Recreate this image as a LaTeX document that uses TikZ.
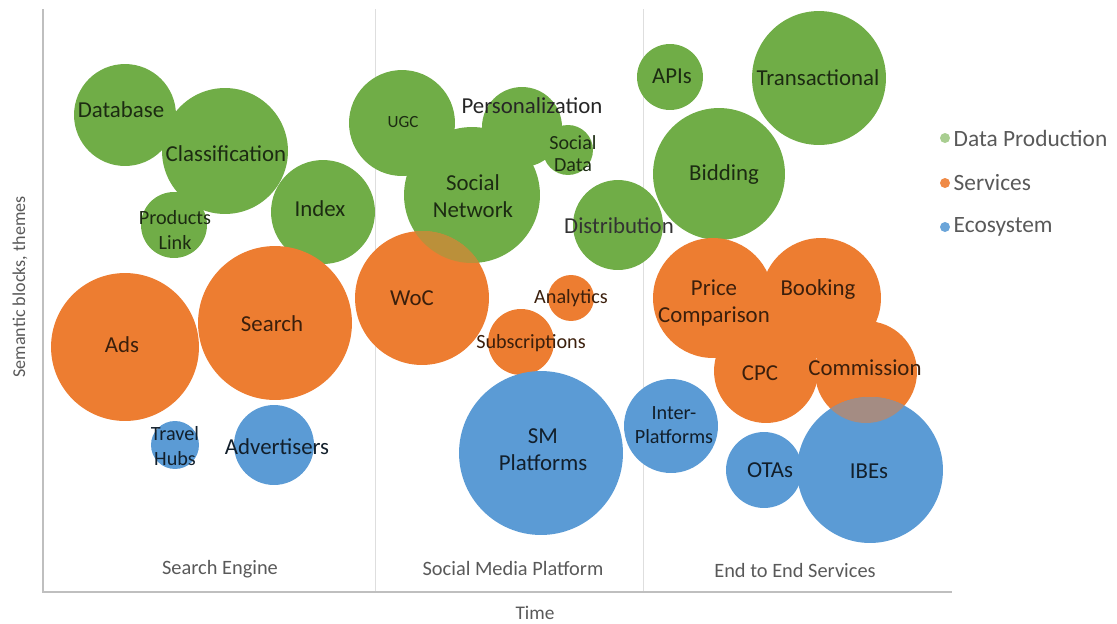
\documentclass[tikz,border=0pt]{standalone}
\usepackage{fontspec}
\setmainfont{Carlito}
\usepackage{tikz}
\usetikzlibrary{positioning}

\definecolor{dataGreen}{RGB}{112,173,71}
\definecolor{svcOrange}{RGB}{237,125,49}
\definecolor{ecoBlue}{RGB}{91,155,213}
\definecolor{axisGray}{RGB}{191,191,191}
\definecolor{sepGray}{RGB}{222,222,222}
\definecolor{txtGray}{RGB}{89,89,89}
\colorlet{blendA}{svcOrange!60!dataGreen}
\colorlet{blendB}{svcOrange!50!ecoBlue}

\begin{document}
\begin{tikzpicture}[x=0.02cm,y=-0.02cm,
	bub/.style={circle,inner sep=0pt,minimum size=#1*0.04cm},
	dp bub/.style={bub=#1,fill=dataGreen},
	sv bub/.style={bub=#1,fill=svcOrange},
	eco bub/.style={bub=#1,fill=ecoBlue},
	lbl/.style={inner sep=0pt,align=center,font=\fontsize{13}{15.5}\selectfont},
	small lbl/.style={lbl,font=\fontsize{11.5}{14}\selectfont},
	dp lbl/.style={text=dataGreen!25!black},
	sv lbl/.style={text=svcOrange!25!black},
	eco lbl/.style={text=ecoBlue!20!black},
	cat lbl/.style={inner sep=0pt,text=txtGray,font=\fontsize{11.6}{14}\selectfont},
	legdot/.style={circle,inner sep=0pt,minimum size=0.2cm},
	legtxt/.style={inner sep=0pt,anchor=west,text=txtGray,font=\fontsize{13.3}{16}\selectfont}]

	\useasboundingbox (0,0) rectangle (1117,623);

	% axes and period separators
	\coordinate (top-l) at (43,9);
	\coordinate (origin) at (43,592);
	\coordinate (end-x) at (952,592);
	\draw[sepGray] (375,9) -- (375,592);
	\draw[sepGray] (643,9) -- (643,592);
	\draw[axisGray,line width=0.8pt] (top-l) -- (origin) -- (end-x);

	% data production
	\node[dp bub=51] (database)   at (125,115) {};
	\node[dp bub=63] (classif)    at (225,151) {};
	\node[dp bub=33] (prodlink)   at (174,225) {};
	\node[dp bub=52] (index)      at (323,212) {};
	\node[dp bub=53] (ugc)        at (402,123) {};
	\node[dp bub=40] (perso)      at (522,127) {};
	\node[dp bub=25] (socdata)    at (568,150) {};
	\node[dp bub=68] (socnet)     at (472,195) {};
	\node[dp bub=45] (distrib)    at (618,225) {};
	\node[dp bub=33] (apis)       at (670,77)  {};
	\node[dp bub=67] (transac)    at (819,78)  {};
	\node[dp bub=66] (bidding)    at (719,174) {};

	% services
	\node[sv bub=74] (ads)        at (125,347) {};
	\node[sv bub=77] (search)     at (275,323) {};
	\node[sv bub=67] (woc)        at (422,298) {};
	\node[sv bub=23] (analytics)  at (571,298) {};
	\node[sv bub=33] (subscr)     at (521,342) {};
	\node[sv bub=60] (pricecomp)  at (713,298) {};
	\node[sv bub=60] (booking)    at (821,298) {};
	\node[sv bub=52] (cpc)        at (766,371) {};
	\node[sv bub=51] (commission) at (866,372) {};

	% ecosystem
	\node[eco bub=24] (travelhubs) at (175,445) {};
	\node[eco bub=40] (advert)     at (274,445) {};
	\node[eco bub=82] (smplat)     at (541,453) {};
	\node[eco bub=47] (interplat)  at (671,426) {};
	\node[eco bub=38] (otas)       at (764,470) {};
	\node[eco bub=73] (ibes)       at (870,470) {};

	% overlaps
	\begin{scope}
		\clip (socnet.center) circle[radius=1.36cm];
		\fill[blendA] (woc.center) circle[radius=1.34cm];
	\end{scope}
	\begin{scope}
		\clip (commission.center) circle[radius=1.02cm];
		\fill[blendB] (ibes.center) circle[radius=1.46cm];
	\end{scope}

	% labels
	\node[lbl,dp lbl]       (database-l)  at (121,110) {Database};
	\node[lbl,dp lbl]       (classif-l)   at (226,154) {Classification};
	\node[small lbl,dp lbl] (prodlink-l)  at (175,230) {Products\\Link};
	\node[lbl,dp lbl]       (index-l)     at (320,209) {Index};
	\node[lbl,dp lbl,font=\fontsize{9.7}{11}\selectfont] (ugc-l) at (403,122) {UGC};
	\node[lbl,text=black!85]  (perso-l)   at (532,106) {Personalization};
	\node[small lbl,dp lbl,font=\fontsize{11.4}{12.5}\selectfont] (socdata-l) at (573,154) {Social\\Data};
	\node[lbl,dp lbl]       (socnet-l)    at (473,196) {Social\\Network};
	\node[lbl,text=black!80]  (distrib-l) at (619,226) {Distribution};
	\node[lbl,dp lbl]       (apis-l)      at (672,76)  {APIs};
	\node[lbl,dp lbl]       (transac-l)   at (818,78)  {Transactional};
	\node[lbl,dp lbl]       (bidding-l)   at (724,175) {Bidding};

	\node[lbl,sv lbl]       (ads-l)       at (122,345) {Ads};
	\node[lbl,sv lbl]       (search-l)    at (272,324) {Search};
	\node[lbl,sv lbl]       (woc-l)       at (412,298) {WoC};
	\node[small lbl,sv lbl] (analytics-l) at (571,298) {Analytics};
	\node[small lbl,sv lbl] (subscr-l)    at (531,343) {Subscriptions};
	\node[lbl,sv lbl]       (pricecomp-l) at (714,303) {Price\\Comparison};
	\node[lbl,sv lbl]       (booking-l)   at (818,290) {Booking};
	\node[lbl,sv lbl]       (cpc-l)       at (760,373) {CPC};
	\node[lbl,sv lbl]       (commission-l) at (865,368) {Commission};

	\node[small lbl,eco lbl] (travelhubs-l) at (175,446) {Travel\\Hubs};
	\node[lbl,eco lbl]       (advert-l)     at (277,447) {Advertisers};
	\node[lbl,eco lbl]       (smplat-l)     at (543,450) {SM\\Platforms};
	\node[small lbl,eco lbl] (interplat-l)  at (674,425) {Inter-\\Platforms};
	\node[lbl,eco lbl]       (otas-l)       at (770,470) {OTAs};
	\node[lbl,eco lbl]       (ibes-l)       at (869,471) {IBEs};

	% periods and axis titles
	\node[cat lbl] (search-eng) at (220,569) {Search Engine};
	\node[cat lbl] (social-mp)  at (513,568) {Social Media Platform};
	\node[cat lbl] (end-to-end) at (795,570) {End to End Services};
	\node[cat lbl,font=\fontsize{11}{13}\selectfont] (time) at (535,613) {Time};
	\node[cat lbl,font=\fontsize{10.3}{12}\selectfont,rotate=90] (themes) at (20,287) {Semantic blocks, themes};

	% legend
	\node[legdot,fill=dataGreen!60!white] (dp-dot)  at (945,138) {};
	\node[legdot,fill=svcOrange!90!white] (sv-dot)  at (945,183) {};
	\node[legdot,fill=ecoBlue!90!white]   (eco-dot) at (945,227) {};
	\node[legtxt,right=0.06cm of dp-dot]  (dp-leg)  {Data Production};
	\node[legtxt,right=0.06cm of sv-dot]  (sv-leg)  {Services};
	\node[legtxt,right=0.06cm of eco-dot] (eco-leg) {Ecosystem};

\end{tikzpicture}
\end{document}
